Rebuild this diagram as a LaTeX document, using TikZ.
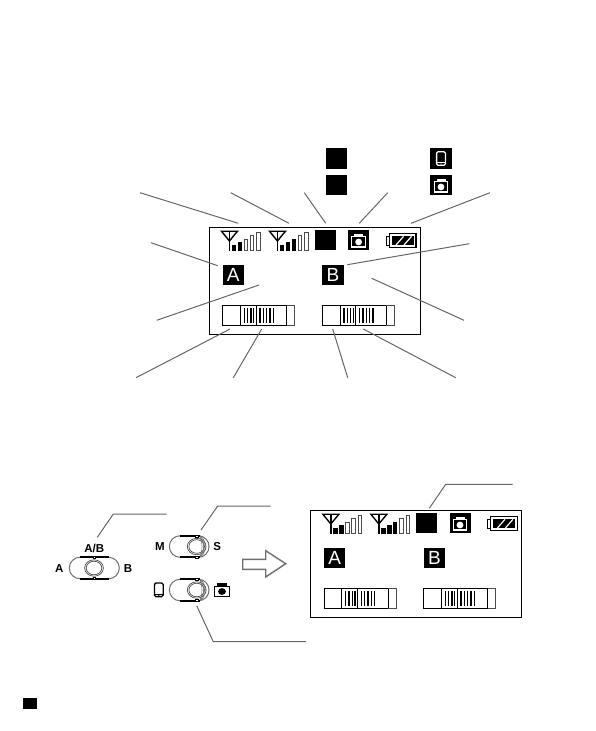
\documentclass[tikz,border=0pt]{standalone}
\usepackage{fontspec}
\setmainfont{Liberation Sans}
\usetikzlibrary{arrows.meta,positioning,calc,shapes.misc}
\definecolor{leadgray}{HTML}{666666}
\definecolor{swgray}{HTML}{707070}

\begin{document}
\begin{tikzpicture}[
  x=1pt,y=-1pt,
  leader/.style={draw=leadgray,line width=1pt},
  panel/.style={draw=black,line width=1.3pt,minimum width=211pt,minimum height=106.6pt,inner sep=0pt},
  tag/.style={fill=black,text=white,minimum width=21.3pt,minimum height=20pt,inner sep=0pt,font=\fontsize{19}{19}\selectfont},
  blackbox/.style={fill=black,minimum width=21pt,minimum height=20.4pt,inner sep=0pt},
  swlabel/.style={font=\fontsize{11.5}{12}\bfseries\selectfont,inner sep=0pt},
  pill/.style={rounded rectangle,draw=swgray,line width=1pt,minimum height=21.6pt,inner sep=0pt},
  tick/.style={line width=1.3pt,draw=black},
  camera/.pic={
    \fill[#1] (-4.5,-6.5) rectangle (4.5,-3);
    \draw[#1,line width=1.1pt] (-6.8,-3.2) rectangle (6.8,7);
    \fill[#1] (0,2) circle (3.4);
  },
  phone/.pic={
    \draw[#1,line width=1.3pt,rounded corners=1.5pt] (-4.4,-6.8) rectangle (4.4,6.8);
    \draw[#1,line width=1pt] (-4.4,4.2) -- (4.4,4.2);
    \fill[#1] (0,5.5) circle (0.7);
  },
  slider/.pic={
    \draw[line width=1.1pt] (0,0) rectangle (64,20.4);
    \draw[draw=black!70,line width=1pt] (64,0) -- (72,0) -- (72,20.4) -- (64,20.4);
    \draw[line width=1pt] (17.7,0) -- (17.7,20.4) (33.3,0) -- (33.3,20.4);
    \foreach \t in {21.7,25,28.3,31,37.3,40.7,44,47.3,50.6}
      \draw[tick] (\t,3) -- (\t,17.5);
  }
]
  \useasboundingbox (0,0) rectangle (595,731);

  % legend squares
  \node[blackbox] (keyOne) at (336.5,158.5) {};
  \node[blackbox] (keyTwo) at (336.5,185) {};
  \node[blackbox,minimum width=22pt] (keyPhone) at (441,158.5) {};
  \node[blackbox,minimum width=22pt] (keyCam) at (441,185) {};
  \pic at (441,158.5) {phone=white};
  \pic at (441,185) {camera=white};

  % both panels
  \foreach \p/\dx/\dy in {top/0/0,low/101.4/283}{
    \begin{scope}[shift={(\dx,\dy)}]
      \node[panel] (panel\p) at (314.8,281) {};
      \foreach \a/\k in {0/2,48/3}{
        \draw[line width=1.4pt,line join=miter] (221.5+\a,231.2) -- (237.5+\a,231.2) -- (229.4+\a,241) -- cycle;
        \draw[line width=1.8pt] (229.4+\a,232) -- (229.4+\a,251);
        \foreach \i/\bx/\bh in {1/232.3/5,2/238.3/7.7,3/244.2/11,4/250.4/14.3,5/256.8/17.3}{
          \ifnum\i>\k
            \draw[draw=black!70,line width=1pt] (\bx+\a,250) rectangle (\bx+3.4+\a,250-\bh);
          \else
            \fill (\bx-0.3+\a,250.5) rectangle (\bx+3.8+\a,250-\bh);
          \fi
        }
      }
      \node[blackbox] (mode\p) at (325.5,240) {};
      \node[blackbox] (cam\p) at (358.6,240) {};
      \pic at (358.6,240) {camera=white};
      % battery
      \draw[line width=1pt] (389.3,236.6) rectangle (386,245);
      \draw[line width=1.1pt] (389.3,233.8) rectangle (416,247.6);
      \fill (391.6,236) rectangle (413.6,245.4);
      \draw[white,line width=1.2pt] (396,245) -- (403.5,236.4) (404,245) -- (411.5,236.4);
      \node[tag] (tagA\p) at (233.3,275.3) {A};
      \node[tag] (tagB\p) at (333,275.3) {B};
      \pic at (222.7,305.3) {slider};
      \pic at (322.3,305.3) {slider};
    \end{scope}
  }

  % leaders of the upper panel
  \foreach \n/\ax/\ay/\bx/\by in {
    a/140/192.7/238.3/223.3, b/230.7/192.7/289/223.3, c/304.3/192.7/325.7/223.3,
    d/387.7/192.7/359.3/223.3, e/490/192.7/411/223.3, f/151/242.7/217.7/265.7,
    g/469.3/243.7/347.3/264.7, h/156.7/320.3/259/285, i/464/320.3/371.7/278.3,
    j/136/377.7/230/329, k/233.3/377.7/261.7/329, l/347.7/377.7/332.7/329,
    m/455.7/377.7/363.3/329}{
    \coordinate (from\n) at (\ax,\ay);
    \coordinate (to\n) at (\bx,\by);
    \draw[leader] (from\n) -- (to\n);
  }

  % switches
  \node[pill,minimum width=50pt] (swAB) at (94.3,568) {};
  \node[pill,minimum width=39.7pt] (swMS) at (189.2,546.5) {};
  \node[pill,minimum width=39.7pt] (swCam) at (189.2,590) {};
  \draw[line width=1.8pt] (80,557.2) -- (109,557.2) (80,578.8) -- (109,578.8);
  \foreach \sy in {546.5,590}
    \draw[line width=1.8pt] (180,\sy-10.8) -- (200,\sy-10.8) (180,\sy+10.8) -- (200,\sy+10.8);
  \foreach \kx/\ky in {94/568,196.7/546.5,196.7/590}{
    \draw[black!70,line width=0.7pt] (\kx,\ky) ellipse (9.4 and 8.2);
    \draw[black!70,line width=0.7pt] (\kx,\ky) ellipse (7.8 and 6.8);
    \filldraw[fill=white,draw=black,line width=0.5pt] (\kx-1.2,\ky-11.6) rectangle (\kx+1.2,\ky-9.6);
    \filldraw[fill=white,draw=black,line width=0.5pt] (\kx-1.2,\ky+9.6) rectangle (\kx+1.2,\ky+11.6);
  }
  \foreach \sy in {546.5,590}
    \foreach \r in {3,5.5,8}
      \draw[swgray,line width=0.6pt] (200,\sy-8.7-\r/4) arc[start angle=-70,end angle=70,x radius=\r,y radius=9.4+\r/4];
  \node[swlabel] (labAB) at (94.3,548.3) {A/B};
  \node[swlabel] (labA) at (59.3,569) {A};
  \node[swlabel] (labB) at (128,569) {B};
  \node[swlabel] (labM) at (160,546.5) {M};
  \node[swlabel] (labS) at (217.3,546.5) {S};
  \pic at (158.8,589.8) {phone=black};
  \pic[xscale=1.15] at (222,589.5) {camera=black};

  % big arrow
  \draw[draw=swgray,line width=1.4pt,line join=miter] (242.7,559.3) -- (265.7,559.3) -- (265.7,550.7)
    -- (285.7,563.7) -- (265.7,577) -- (265.7,569.3) -- (242.7,569.3) -- cycle;

  % bent leaders
  \foreach \n/\ax/\ay/\bx/\by/\cx/\cy in {
    q/166.7/514/113.3/514/97.3/537.3, r/270.7/506/217.7/506/201/530,
    s/306/641.7/213.3/641.7/196.7/605.7, t/512.7/484.3/445.7/484.3/429.3/508.3}{
    \coordinate (from\n) at (\ax,\ay);
    \coordinate (bend\n) at (\bx,\by);
    \coordinate (to\n) at (\cx,\cy);
    \draw[leader] (from\n) -- (bend\n) -- (to\n);
  }

  % page mark
  \node[fill=black,minimum width=13.4pt,minimum height=11pt,inner sep=0pt] (pagemark) at (30,703.5) {};
\end{tikzpicture}
\end{document}
